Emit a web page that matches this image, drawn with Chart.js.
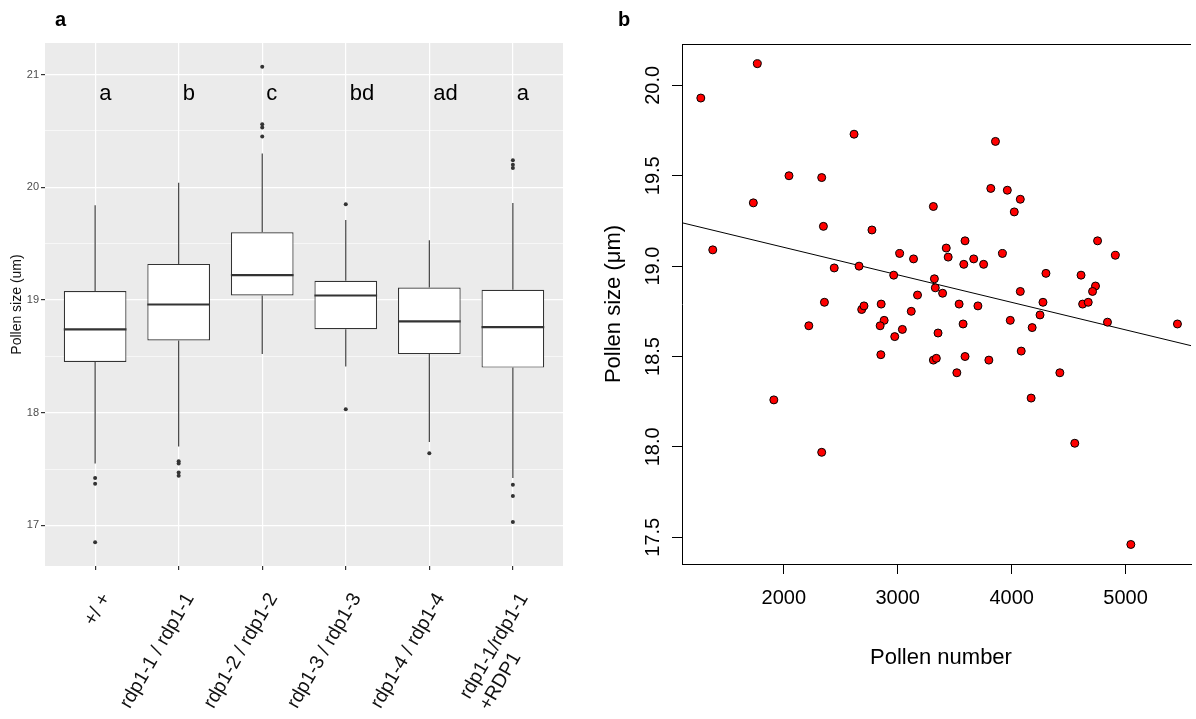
<!DOCTYPE html>
<html>
<head>
<meta charset="utf-8">
<title>Pollen size</title>
<script src="https://cdn.jsdelivr.net/npm/chart.js@4.4.1/dist/chart.umd.min.js"></script>
<style>
  body { margin: 0; background: #fff; width: 1196px; height: 719px; position: relative; overflow: hidden; }
  canvas { position: absolute; top: 0; }
  #boxChart { left: 0; }
  #scatterChart { left: 590px; }
</style>
</head>
<body>
<canvas id="boxChart" width="590" height="719"></canvas>
<canvas id="scatterChart" width="606" height="719"></canvas>
<script>
// panel a: pollen size per genotype (box plot)
const genotypes = ["+/ +", "rdp1-1 / rdp1-1", "rdp1-2 / rdp1-2", "rdp1-3 / rdp1-3", "rdp1-4 / rdp1-4", ["rdp1-1/rdp1-1", "+RDP1"]];
const groupLetters = ["a", "b", "c", "bd", "ad", "a"];
const whiskLo = [17.55, 17.70, 18.52, 18.41, 17.74, 17.42];
const boxQ1 = [18.45, 18.64, 19.04, 18.74, 18.52, 18.40];
const boxMed = [18.74, 18.96, 19.22, 19.04, 18.81, 18.76];
const boxQ3 = [19.08, 19.32, 19.60, 19.17, 19.11, 19.09];
const whiskHi = [19.84, 20.04, 20.30, 19.71, 19.53, 19.86];
const outliers = [
  [17.42, 17.37, 16.85],
  [17.57, 17.55, 17.47, 17.44],
  [21.07, 20.56, 20.53, 20.45],
  [19.85, 18.03],
  [17.64],
  [20.24, 20.20, 20.17, 17.36, 17.26, 17.03]
];

// panel b: pollen number vs pollen size
const pollenNumber = [1272, 1768, 2617, 2046, 2333, 1733, 2348, 2774, 1377, 2443, 2661, 2965, 3017, 3858, 3817, 3962, 4076, 4023, 3313, 3591,
  3426, 3443, 3139, 3667, 3580, 3754, 3919, 4754, 4910, 3322, 3330, 3394, 3174, 4301, 4609, 4076, 4736, 4710, 2855, 2881,
  2846, 3119, 3539, 3704, 4275, 4623, 4672, 4249, 3988, 4841, 5455, 2974, 3041, 3354, 3574, 4180, 2852, 3313, 3339, 3591,
  3800, 4084, 3519, 4423, 4171, 4554, 5046, 2357, 2220, 2684, 2704, 1913, 2333];
const pollenSize = [19.93, 20.12, 19.73, 19.50, 19.49, 19.35, 19.22, 19.20, 19.09, 18.99, 19.00, 18.95, 19.07, 19.69, 19.43, 19.42, 19.37, 19.30, 19.33, 19.14,
  19.10, 19.05, 19.04, 19.04, 19.01, 19.01, 19.07, 19.14, 19.06, 18.93, 18.88, 18.85, 18.84, 18.96, 18.95, 18.86, 18.89, 18.86, 18.79, 18.70,
  18.67, 18.75, 18.79, 18.78, 18.80, 18.79, 18.80, 18.73, 18.70, 18.69, 18.68, 18.61, 18.65, 18.63, 18.68, 18.66, 18.51, 18.48, 18.49, 18.50,
  18.48, 18.53, 18.41, 18.41, 18.27, 18.02, 17.46, 18.80, 18.67, 18.76, 18.78, 18.26, 17.97];
const fitX = [1107, 5574];
const fitY = [19.24, 18.56];
const numberTicks = [2000, 3000, 4000, 5000];
const sizeTicks = [17.5, 18.0, 18.5, 19.0, 19.5, 20.0];

const FONT = "'Liberation Sans', Arial, Helvetica, sans-serif";
Chart.defaults.font.family = FONT;
Chart.defaults.color = "#000";

const BOX_WIDTH = 0.75;

const boxes = genotypes.map((_, i) => ({ x: i, y: [boxQ1[i], boxQ3[i]] }));

const whiskers = [];
genotypes.forEach((_, i) => {
  whiskers.push({ x: i, y: whiskLo[i] }, { x: i, y: boxQ1[i] }, { x: i, y: null });
  whiskers.push({ x: i, y: boxQ3[i] }, { x: i, y: whiskHi[i] }, { x: i, y: null });
});

const medians = [];
genotypes.forEach((_, i) => {
  medians.push({ x: i - BOX_WIDTH / 2, y: boxMed[i] }, { x: i + BOX_WIDTH / 2, y: boxMed[i] }, { x: i + 0.5, y: null });
});

const outlierPoints = [];
outliers.forEach((vals, i) => vals.forEach(v => outlierPoints.push({ x: i, y: v })));

const scatterPoints = pollenNumber.map((n, i) => ({ x: n, y: pollenSize[i] }));
const fitLine = fitX.map((x, i) => ({ x: x, y: fitY[i] }));

const isWhole = c => c.tick && Number.isInteger(c.tick.value);

const panelA = {
  id: "panelA",
  beforeDraw(chart) {
    const { ctx, chartArea: a } = chart;
    ctx.save();
    ctx.fillStyle = "#EBEBEB";
    ctx.fillRect(a.left, a.top, a.right - a.left, a.bottom - a.top);
    ctx.restore();
  },
  afterDraw(chart) {
    const { ctx, chartArea: a, scales: { x, y } } = chart;
    ctx.save();

    // significance letters
    ctx.font = "22px " + FONT;
    ctx.fillStyle = "#000";
    ctx.textAlign = "left";
    ctx.textBaseline = "alphabetic";
    groupLetters.forEach((l, i) => {
      ctx.fillText(l, x.getPixelForValue(i) + 4, y.getPixelForValue(20.77));
    });

    // rotated genotype labels
    ctx.font = "19.5px " + FONT;
    ctx.fillStyle = "#111";
    ctx.textBaseline = "middle";
    genotypes.forEach((label, i) => {
      const lines = [].concat(label);
      const w = Math.max(...lines.map(s => ctx.measureText(s).width));
      ctx.save();
      ctx.translate(x.getPixelForValue(i) + 11, 595);
      ctx.rotate(-Math.PI / 3);
      ctx.textAlign = "left";
      lines.forEach((s, k) => ctx.fillText(s, -w, k * 23));
      ctx.restore();
    });

    // axis title
    ctx.save();
    ctx.font = "14px " + FONT;
    ctx.textAlign = "center";
    ctx.translate(17, (a.top + a.bottom) / 2);
    ctx.rotate(-Math.PI / 2);
    ctx.fillText("Pollen size (um)", 0, 0);
    ctx.restore();

    // panel letter
    ctx.font = "bold 20px " + FONT;
    ctx.textAlign = "left";
    ctx.textBaseline = "alphabetic";
    ctx.fillStyle = "#000";
    ctx.fillText("a", 55, 26);
    ctx.restore();
  }
};

new Chart(document.getElementById("boxChart"), {
  type: "scatter",
  data: {
    datasets: [
      { type: "line", data: whiskers, borderColor: "#333", borderWidth: 1.1, pointRadius: 0, fill: false, spanGaps: false, order: 4 },
      { type: "bar", data: boxes, backgroundColor: "#fff", borderColor: "#333", borderWidth: 1.2, borderSkipped: false,
        barPercentage: BOX_WIDTH, categoryPercentage: 1, order: 3 },
      { type: "line", data: medians, borderColor: "#333", borderWidth: 2.2, pointRadius: 0, fill: false, spanGaps: false, order: 2 },
      { type: "scatter", data: outlierPoints, pointRadius: 2, backgroundColor: "#333", borderWidth: 0, order: 1 }
    ]
  },
  options: {
    responsive: false,
    animation: false,
    layout: { padding: { top: 43, right: 27, left: 0, bottom: 0 } },
    plugins: { legend: { display: false }, tooltip: { enabled: false } },
    scales: {
      x: {
        type: "linear", min: -0.6, max: 5.6, offset: false,
        ticks: { stepSize: 1, includeBounds: false, callback: () => "" },
        grid: { color: "#fff", lineWidth: 1.2, tickColor: "#333", tickLength: 4, offset: false },
        border: { display: false },
        afterFit: s => { s.height = 153; }
      },
      y: {
        type: "linear", min: 16.64, max: 21.28, beginAtZero: false,
        ticks: { stepSize: 0.5, includeBounds: false, color: "#4D4D4D", font: { size: 11 }, padding: 2,
          callback: v => Number.isInteger(v) ? String(v) : "" },
        grid: { color: "#fff", lineWidth: c => isWhole(c) ? 1.2 : 0.6,
          tickColor: c => isWhole(c) ? "#333" : "rgba(0,0,0,0)", tickLength: 4 },
        border: { display: false },
        afterFit: s => { s.width = 45; }
      }
    }
  },
  plugins: [panelA]
});

const panelB = {
  id: "panelB",
  afterDraw(chart) {
    const { ctx, chartArea: a, scales: { x, y } } = chart;
    ctx.save();

    // top edge of the box
    ctx.strokeStyle = "#000";
    ctx.lineWidth = 1;
    ctx.beginPath();
    ctx.moveTo(a.left, Math.round(a.top) + 0.5);
    ctx.lineTo(a.right, Math.round(a.top) + 0.5);
    ctx.stroke();

    ctx.fillStyle = "#000";
    ctx.font = "20px " + FONT;
    ctx.textAlign = "center";
    ctx.textBaseline = "middle";
    x.ticks.forEach(t => ctx.fillText(String(t.value), x.getPixelForValue(t.value), 598));
    y.ticks.forEach(t => {
      ctx.save();
      ctx.translate(63, y.getPixelForValue(t.value));
      ctx.rotate(-Math.PI / 2);
      ctx.fillText(t.value.toFixed(1), 0, 0);
      ctx.restore();
    });

    ctx.font = "22px " + FONT;
    ctx.fillText("Pollen number", 351, 658);
    ctx.save();
    ctx.translate(24, (a.top + a.bottom) / 2);
    ctx.rotate(-Math.PI / 2);
    ctx.fillText("Pollen size (\u03bcm)", 0, 0);
    ctx.restore();

    ctx.font = "bold 20px " + FONT;
    ctx.textAlign = "left";
    ctx.textBaseline = "alphabetic";
    ctx.fillText("b", 28, 26);
    ctx.restore();
  }
};

new Chart(document.getElementById("scatterChart"), {
  type: "scatter",
  data: {
    datasets: [
      { type: "line", data: fitLine, borderColor: "#000", borderWidth: 1, pointRadius: 0, fill: false, order: 2 },
      { type: "scatter", data: scatterPoints, pointRadius: 4, backgroundColor: "#FF0000", borderColor: "#000", borderWidth: 1, order: 1 }
    ]
  },
  options: {
    responsive: false,
    animation: false,
    layout: { padding: { top: 44, right: 0, left: 0, bottom: 0 } },
    plugins: { legend: { display: false }, tooltip: { enabled: false } },
    scales: {
      x: {
        type: "linear", min: 1107, max: 5574,
        afterBuildTicks: s => { s.ticks = numberTicks.map(v => ({ value: v })); },
        ticks: { callback: () => "" },
        grid: { drawOnChartArea: false, color: "#000", tickColor: "#000", tickLength: 10 },
        border: { color: "#000", width: 1 },
        afterFit: s => { s.height = 155; }
      },
      y: {
        type: "linear", min: 17.352, max: 20.229,
        afterBuildTicks: s => { s.ticks = sizeTicks.map(v => ({ value: v })); },
        ticks: { callback: () => "" },
        grid: { drawOnChartArea: false, color: "#000", tickColor: "#000", tickLength: 10 },
        border: { color: "#000", width: 1 },
        afterFit: s => { s.width = 92; }
      }
    }
  },
  plugins: [panelB]
});
</script>
</body>
</html>
